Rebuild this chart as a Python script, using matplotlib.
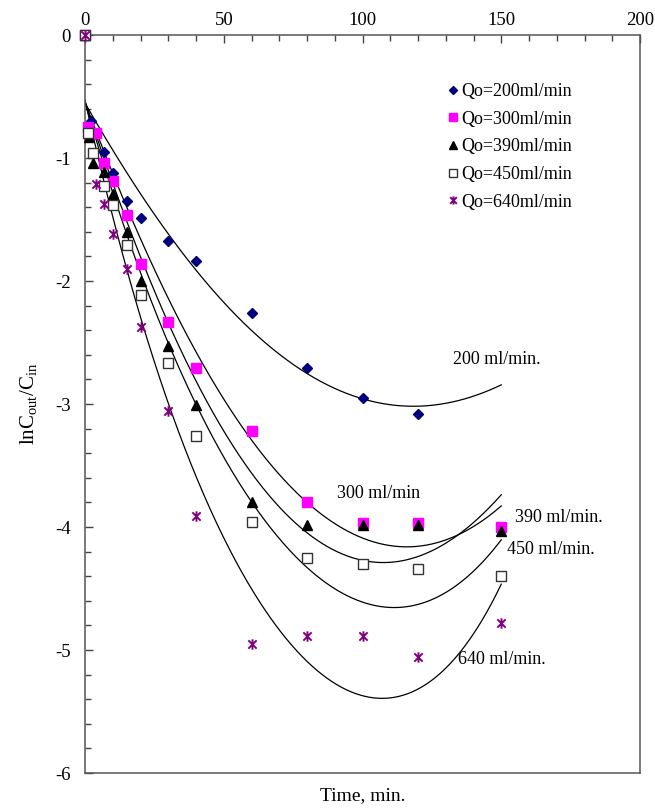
import numpy as np
import matplotlib
matplotlib.use("Agg")
import matplotlib.pyplot as plt
from matplotlib.path import Path

plt.rcParams["font.family"] = ["Liberation Serif", "DejaVu Serif"]
plt.rcParams["mathtext.fontset"] = "custom"
plt.rcParams["mathtext.rm"] = "Liberation Serif"
plt.rcParams["mathtext.it"] = "Liberation Serif:italic"
plt.rcParams["axes.unicode_minus"] = False

# ---- measured points: ln(Cout/Cin) versus time (min) ----
t_200 = [0, 2, 7, 10, 15, 20, 30, 40, 60, 80, 100, 120]
v_200 = [0, -0.70, -0.95, -1.12, -1.35, -1.49, -1.675, -1.84, -2.26, -2.71, -2.95, -3.08]

t_300 = [0, 1, 4, 7, 10, 15, 20, 30, 40, 60, 80, 100, 120, 150]
v_300 = [0, -0.75, -0.80, -1.04, -1.19, -1.46, -1.86, -2.33, -2.71, -3.22, -3.80, -3.965, -3.965, -4.00]

t_390 = [0, 1.5, 3, 7, 10, 15, 20, 30, 40, 60, 80, 100, 120, 150]
v_390 = [0, -0.83, -1.04, -1.11, -1.29, -1.60, -2.00, -2.53, -3.01, -3.80, -3.98, -3.98, -3.98, -4.03]

t_450 = [0, 1, 3, 7, 10, 15, 20, 30, 40, 60, 80, 100, 120, 150]
v_450 = [0, -0.80, -0.96, -1.23, -1.38, -1.71, -2.11, -2.67, -3.26, -3.96, -4.25, -4.30, -4.34, -4.40]

t_640 = [0, 4, 7, 10, 15, 20, 30, 40, 60, 80, 100, 120, 150]
v_640 = [0, -1.21, -1.37, -1.62, -1.905, -2.37, -3.06, -3.91, -4.95, -4.89, -4.89, -5.06, -4.78]

# ---- model curves (values along each fitted line) ----
t_fit = [0, 10, 20, 30, 40, 50, 60, 70, 80, 90, 100, 110, 120, 130, 140, 150]
fit_200 = [-0.55, -0.93, -1.31, -1.62, -1.89, -2.19, -2.39, -2.58, -2.76, -2.89, -2.96, -3.00, -3.02, -2.99, -2.93, -2.85]
fit_300 = [-0.55, -1.12, -1.65, -2.16, -2.55, -2.98, -3.30, -3.56, -3.80, -3.97, -4.09, -4.15, -4.16, -4.11, -3.99, -3.83]
fit_390 = [-0.55, -1.20, -1.80, -2.30, -2.84, -3.25, -3.57, -3.83, -4.03, -4.17, -4.27, -4.30, -4.25, -4.14, -3.95, -3.74]
fit_450 = [-0.55, -1.27, -1.95, -2.50, -3.00, -3.42, -3.80, -4.10, -4.33, -4.51, -4.61, -4.64, -4.62, -4.55, -4.36, -4.10]
fit_640 = [-0.55, -1.42, -2.35, -2.98, -3.54, -4.10, -4.55, -4.86, -5.07, -5.25, -5.36, -5.38, -5.32, -5.17, -4.88, -4.45]

legend_labels = ["Qo=200ml/min", "Qo=300ml/min", "Qo=390ml/min", "Qo=450ml/min", "Qo=640ml/min"]
curve_labels = ["200 ml/min.", "300 ml/min", "390 ml/min.", "450 ml/min.", "640 ml/min."]


def trendline(x, y, degree=4, num=400):
    """Smooth polynomial trendline through the tabulated curve values."""
    coef = np.polyfit(x, y, degree)
    xs = np.linspace(min(x), max(x), num)
    return xs, np.polyval(coef, xs)


# asterisk marker: an "x" crossed by a vertical stroke
star_path = Path(
    [(-1, -1), (1, 1), (-1, 1), (1, -1), (0, -1.25), (0, 1.25)],
    [Path.MOVETO, Path.LINETO, Path.MOVETO, Path.LINETO, Path.MOVETO, Path.LINETO],
)

fig = plt.figure(figsize=(6.55, 8.08), dpi=100)
ax = fig.add_axes([85 / 655, 1 - 773 / 808, 555 / 655, 738 / 808])

for fit in (fit_200, fit_300, fit_390, fit_450, fit_640):
    xs, ys = trendline(t_fit, fit)
    ax.plot(xs, ys, color="black", lw=0.9, zorder=2)

ax.plot(t_200, v_200, ls="none", marker="D", ms=5.5, mfc="#00007f", mec="#00007f",
        label=legend_labels[0], zorder=3, clip_on=False)
ax.plot(t_300, v_300, ls="none", marker="s", ms=6.5, mfc="#ff00ff", mec="#ff00ff",
        label=legend_labels[1], zorder=3, clip_on=False)
ax.plot(t_390, v_390, ls="none", marker="^", ms=7, mfc="black", mec="black",
        label=legend_labels[2], zorder=3, clip_on=False)
ax.plot(t_450, v_450, ls="none", marker="s", ms=6.5, mfc="white", mec="#333333", mew=1.0,
        label=legend_labels[3], zorder=3, clip_on=False)
ax.plot(t_640, v_640, ls="none", marker=star_path, ms=7.5, mfc="none", mec="#800080", mew=1.4,
        label=legend_labels[4], zorder=3, clip_on=False)

ax.set_xlim(0, 200)
ax.set_ylim(-6, 0)
ax.xaxis.set_ticks_position("top")
ax.xaxis.set_label_position("bottom")
ax.set_xticks(np.arange(0, 201, 50))
ax.set_xticks(np.arange(0, 201, 10), minor=True)
ax.set_yticks(np.arange(-6, 0.1, 1))
ax.set_yticks(np.arange(-6, 0.01, 0.2), minor=True)
ax.set_yticklabels([f"{v:d}" for v in range(-6, 1)])
ax.tick_params(axis="both", which="both", direction="in", colors="#444444",
               labelcolor="black", labelsize=13.5, width=1.0)
ax.tick_params(axis="x", which="major", length=6, pad=4, top=True, bottom=False)
ax.tick_params(axis="x", which="minor", length=4, top=True, bottom=False)
ax.tick_params(axis="y", which="major", length=6, pad=10, left=True, right=False)
ax.tick_params(axis="y", which="minor", length=4, left=True, right=False)
for sp in ax.spines.values():
    sp.set_color("#555555")
    sp.set_linewidth(1.1)

ax.set_xlabel("Time, min.", fontsize=14, labelpad=10)
ax.set_ylabel(r"$\mathrm{lnC_{out}/C_{in}}$", fontsize=15, labelpad=12)

ax.legend(loc="upper left", bbox_to_anchor=(0.653, 0.935), frameon=False, fontsize=13,
          handlelength=0.6, handletextpad=0.15, borderpad=0, borderaxespad=0,
          labelspacing=0.59, markerscale=0.8)

label_pos = [(453, 359), (337, 493), (515, 517), (507, 549), (458, 659)]
for (px, py), text in zip(label_pos, curve_labels):
    ax.text(px / 655, 1 - py / 808, text, transform=fig.transFigure,
            fontsize=13, ha="left", va="center")

fig.savefig("out.png", dpi=100)
